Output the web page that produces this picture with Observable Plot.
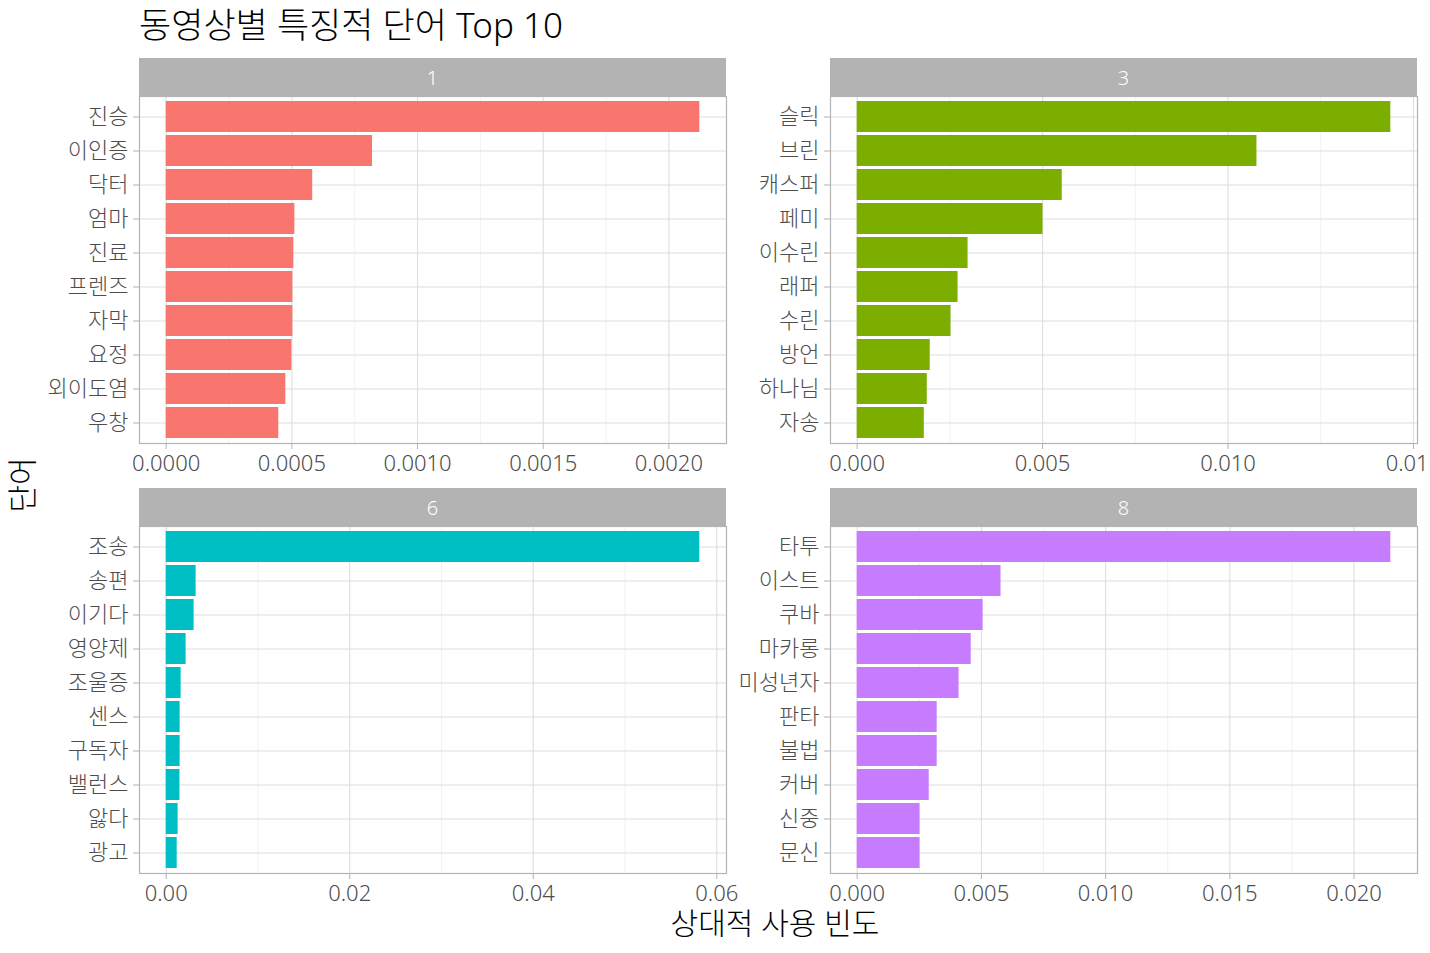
<!DOCTYPE html>
<html><head><meta charset="utf-8">
<script src="https://cdn.jsdelivr.net/npm/d3@7"></script>
<script src="https://cdn.jsdelivr.net/npm/@observablehq/plot@0.6"></script>
<style>
html,body{margin:0;padding:0;background:#fff;overflow:hidden;}
#root{position:relative;width:1430px;height:953px;font-family:"Noto Sans","Noto Sans CJK KR",sans-serif;font-weight:300;}
.title{position:absolute;left:139px;top:6px;font-size:35px;line-height:38px;color:#000;white-space:nowrap;}
.strip{position:absolute;background:#B3B3B3;color:#fff;font-size:20px;display:flex;align-items:center;justify-content:center;}
.panel{position:absolute;}
.xtitle{position:absolute;left:775px;top:923px;transform:translate(-50%,-50%);font-size:30px;line-height:30px;color:#000;white-space:nowrap;}
.ytitle{position:absolute;left:22px;top:485px;transform:translate(-50%,-50%) rotate(-90deg);font-size:30px;line-height:30px;color:#000;white-space:nowrap;}
svg [aria-label="x-axis tick"], svg [aria-label="y-axis tick"]{stroke:#B3B3B3;}
</style>
</head><body>
<div id="root"></div>
<script>
const facets = ["1", "3", "6", "8"];
const colors = ["#F8766D", "#7CAE00", "#00BFC4", "#C77CFF"];

const words1 = ["진승","이인증","닥터","엄마","진료","프렌즈","자막","요정","외이도염","우창"];
const values1 = [0.002123,0.000821,0.000583,0.000512,0.000508,0.000504,0.000504,0.000500,0.000476,0.000448];
const words3 = ["슬릭","브린","캐스퍼","페미","이수린","래퍼","수린","방언","하나님","자송"];
const values3 = [0.01439,0.01078,0.00553,0.00501,0.00299,0.00272,0.00253,0.00197,0.00189,0.00181];
const words6 = ["조송","송편","이기다","영양제","조울증","센스","구독자","밸런스","앓다","광고"];
const values6 = [0.05815,0.00326,0.00304,0.00217,0.00163,0.00152,0.00152,0.00150,0.00130,0.00120];
const words8 = ["타투","이스트","쿠바","마카롱","미성년자","판타","불법","커버","신중","문신"];
const values8 = [0.02148,0.00579,0.00507,0.00459,0.00410,0.00322,0.00322,0.00290,0.00253,0.00253];

const ticks1 = [0, 0.0005, 0.0010, 0.0015, 0.0020];
const tickLabels1 = ["0.0000","0.0005","0.0010","0.0015","0.0020"];
const minor1 = [0.00025, 0.00075, 0.00125, 0.00175];
const ticks3 = [0, 0.005, 0.010, 0.015];
const tickLabels3 = ["0.000","0.005","0.010","0.015"];
const minor3 = [0.0025, 0.0075, 0.0125];
const ticks6 = [0, 0.02, 0.04, 0.06];
const tickLabels6 = ["0.00","0.02","0.04","0.06"];
const minor6 = [0.01, 0.03, 0.05];
const ticks8 = [0, 0.005, 0.010, 0.015, 0.020];
const tickLabels8 = ["0.000","0.005","0.010","0.015","0.020"];
const minor8 = [0.0025, 0.0075, 0.0125, 0.0175];

const titleText = "동영상별 특징적 단어 Top 10";
const xTitle = "상대적 사용 빈도";
const yTitle = "단어";

const root = document.getElementById("root");
function addDiv(cls, text, style) {
  const d = document.createElement("div");
  d.className = cls; d.textContent = text;
  Object.assign(d.style, style || {});
  root.appendChild(d);
  return d;
}

const frameW = 587, frameH = 347, mL = 130, mT = 2, mB = 44;
function panel({words, values, color, ticks, tickLabels, minor, frameLeft, frameTop, mR, label}) {
  const data = words.map((w, i) => ({word: w, value: values[i]}));
  const max = d3.max(values);
  const fmt = new Map(ticks.map((t, i) => [t, tickLabels[i]]));
  addDiv("strip", label, {left: frameLeft + "px", top: (frameTop - 38) + "px", width: frameW + "px", height: "38px"});
  const chart = Plot.plot({
    width: mL + frameW + mR,
    height: mT + frameH + mB,
    marginLeft: mL, marginRight: mR, marginTop: mT, marginBottom: mB,
    style: {fontFamily: '"Noto Sans","Noto Sans CJK KR",sans-serif', fontWeight: 300, fontSize: "22px", color: "#4D4D4D", background: "transparent", overflow: "visible"},
    x: {domain: [-0.05 * max, 1.05 * max], ticks, tickFormat: d => fmt.get(d), tickSize: 6, tickPadding: 6, label: null},
    y: {domain: words, paddingInner: 0.1, paddingOuter: 0.15, tickSize: 6, tickPadding: 5, label: null},
    marks: [
      Plot.ruleX(minor, {stroke: "#EBEBEB", strokeWidth: 0.7}),
      Plot.ruleX(ticks, {stroke: "#DEDEDE", strokeWidth: 1.1}),
      Plot.ruleY(words, {y: d => d, stroke: "#DEDEDE", strokeWidth: 1.1}),
      Plot.barX(data, {x: "value", y: "word", fill: color}),
      Plot.frame({stroke: "#B3B3B3", strokeWidth: 1.2})
    ]
  });
  const wrap = document.createElement("div");
  wrap.className = "panel";
  wrap.style.left = (frameLeft - mL) + "px";
  wrap.style.top = (frameTop - mT) + "px";
  wrap.appendChild(chart);
  root.appendChild(wrap);
}

addDiv("title", titleText);
panel({words: words1, values: values1, color: colors[0], ticks: ticks1, tickLabels: tickLabels1, minor: minor1, frameLeft: 139, frameTop: 96, mR: 25, label: facets[0]});
panel({words: words3, values: values3, color: colors[1], ticks: ticks3, tickLabels: tickLabels3, minor: minor3, frameLeft: 830, frameTop: 96, mR: 13, label: facets[1]});
panel({words: words6, values: values6, color: colors[2], ticks: ticks6, tickLabels: tickLabels6, minor: minor6, frameLeft: 139, frameTop: 526, mR: 25, label: facets[2]});
panel({words: words8, values: values8, color: colors[3], ticks: ticks8, tickLabels: tickLabels8, minor: minor8, frameLeft: 830, frameTop: 526, mR: 13, label: facets[3]});
addDiv("xtitle", xTitle);
addDiv("ytitle", yTitle);
</script>
</body></html>
